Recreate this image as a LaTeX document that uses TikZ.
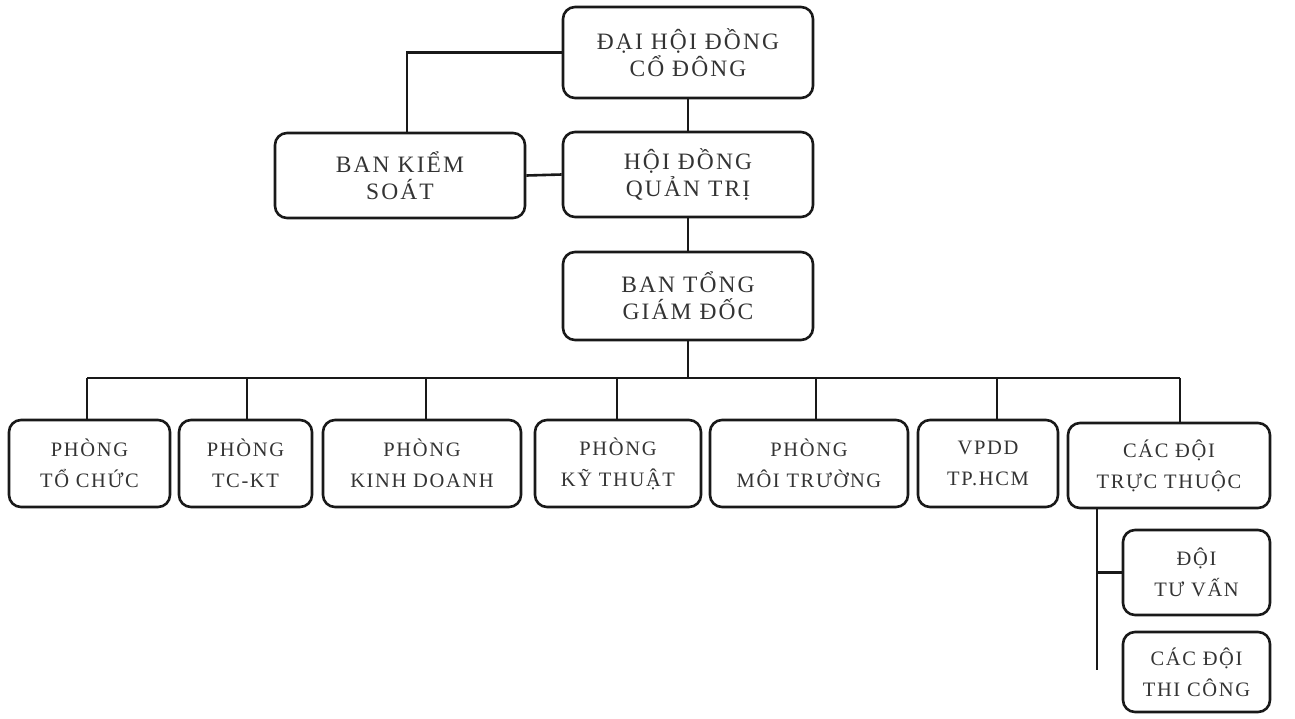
\documentclass[tikz,border=0pt]{standalone}
\usepackage{fontspec}
\setmainfont{Liberation Serif}
\newfontfamily\boxfont[LetterSpace=9]{Liberation Serif}
\newfontfamily\smallboxfont[LetterSpace=8]{Liberation Serif}
\begin{document}
\begin{tikzpicture}[x=1pt,y=-1pt,
  box/.style={draw=black!90, line width=2.6pt, rounded corners=12pt, align=center, text=black!80, inner sep=0pt},
  big/.style={box, font={\boxfont\fontsize{23.5}{27}\selectfont}},
  small/.style={box, font={\smallboxfont\fontsize{20.5}{31}\selectfont}},
  link/.style={draw=black!90, line width=2.6pt}]
\useasboundingbox (0,0) rectangle (1295,718);
% top
\node[big, minimum width=250pt, minimum height=91pt] (dhdcd) at (688,52.5) {ĐẠI HỘI ĐỒNG\\CỔ ĐÔNG};
\node[big, minimum width=250pt, minimum height=85pt] (hdqt) at (688,174.5) {HỘI ĐỒNG\\QUẢN TRỊ};
\node[big, minimum width=250pt, minimum height=85pt] (bks) at (400,175.5) {BAN KIỂM\\SOÁT};
\node[big, minimum width=250pt, minimum height=88pt] (btgd) at (688,296) {BAN TỔNG\\GIÁM ĐỐC};
% bottom row
\node[small, minimum width=161pt, minimum height=87pt] (p1) at (89.5,463.5) {PHÒNG\\TỔ CHỨC};
\node[small, minimum width=133pt, minimum height=87pt] (p2) at (245.5,463.5) {PHÒNG\\TC-KT};
\node[small, minimum width=198pt, minimum height=87pt] (p3) at (422,463.5) {PHÒNG\\KINH DOANH};
\node[small, minimum width=166pt, minimum height=87pt] (p4) at (618,463.5) {PHÒNG\\KỸ THUẬT};
\node[small, minimum width=198pt, minimum height=87pt] (p5) at (809,463.5) {PHÒNG\\MÔI TRƯỜNG};
\node[small, minimum width=140pt, minimum height=87pt] (p6) at (988,463.5) {VPDD\\TP.HCM};
\node[small, minimum width=202pt, minimum height=85pt] (p7) at (1169,465.5) {CÁC ĐỘI\\TRỰC THUỘC};
\node[small, minimum width=147pt, minimum height=85pt] (tv) at (1196.5,572.5) {ĐỘI\\TƯ VẤN};
\node[small, minimum width=147pt, minimum height=80pt] (tc) at (1196.5,672) {CÁC ĐỘI\\THI CÔNG};
% connectors top
\coordinate (kx) at (407,52.5);
\draw[link] (dhdcd.west) -- (kx) -- (kx |- bks.north);
\draw[link] (bks.east) -- (hdqt.west);
\draw[link] (dhdcd.south) -- (hdqt.north);
\draw[link] (hdqt.south) -- (btgd.north);
% bus
\coordinate (bL) at (87,378);
\coordinate (bR) at (1180,378);
\draw[link] (btgd.south) -- (btgd.south |- bL);
\draw[link] (bL) -- (bR);
\coordinate (b2) at (247,378);
\coordinate (b3) at (426,378);
\coordinate (b4) at (617,378);
\coordinate (b5) at (816,378);
\coordinate (b6) at (997,378);
\draw[link] (bL) -- (bL |- p1.north);
\draw[link] (b2) -- (b2 |- p2.north);
\draw[link] (b3) -- (b3 |- p3.north);
\draw[link] (b4) -- (b4 |- p4.north);
\draw[link] (b5) -- (b5 |- p5.north);
\draw[link] (b6) -- (b6 |- p6.north);
\draw[link] (bR) -- (bR |- p7.north);
% sub-teams
\coordinate (vend) at (1097,670);
\draw[link] (vend |- p7.south) -- (vend);
\draw[link] (vend |- tv.west) -- (tv.west);
\end{tikzpicture}
\end{document}
